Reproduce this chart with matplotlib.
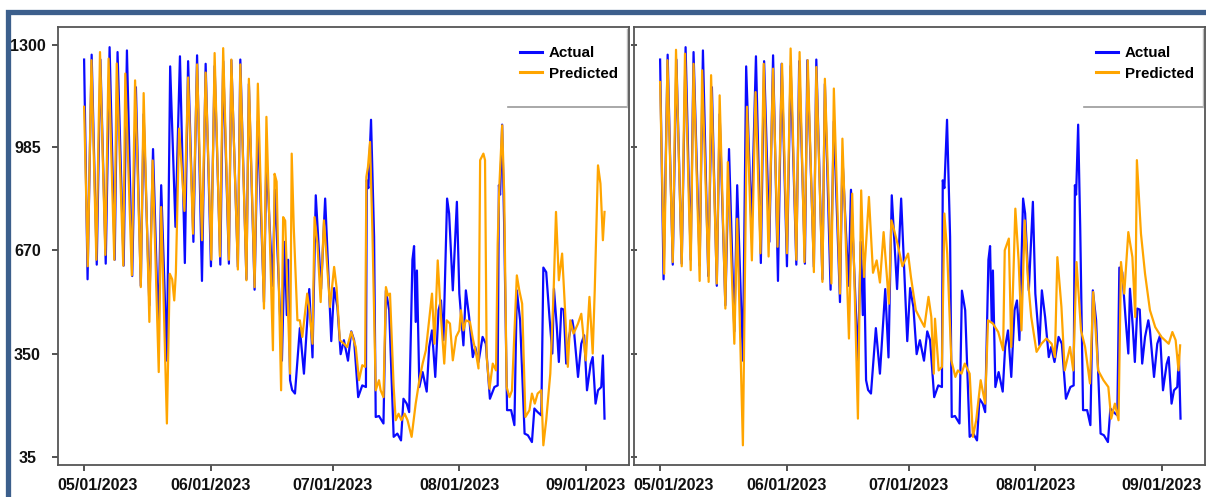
import numpy as np
import pandas as pd
import matplotlib
matplotlib.use('Agg')
import matplotlib.pyplot as plt
import matplotlib.dates as mdates
from matplotlib.patches import Rectangle
from matplotlib.lines import Line2D
from matplotlib.transforms import ScaledTranslation

plt.rcParams['font.family'] = ['Liberation Sans', 'DejaVu Sans']

start = pd.Timestamp('2023-05-01')

# actual series (days since 05/01/2023, value)
actual_day = [0.0, 0.85, 1.85, 3.1, 4.0, 5.3, 6.25, 7.5, 8.2, 9.7, 10.5, 11.8, 12.7, 13.9, 14.6,
              16.0, 16.9, 18.2, 18.9, 20.3, 21.1, 22.4, 23.5, 24.7, 25.5, 26.8, 27.7, 28.9, 29.8,
              31.1, 32.0, 33.4, 34.1, 35.5, 36.1, 37.7, 38.3, 39.8, 40.4, 41.8, 42.6, 44.1, 44.7,
              46.2, 46.8, 48.5, 49.2, 49.7, 50.0, 50.5, 51.0, 51.7, 52.9, 53.9, 55.2, 56.0, 56.8,
              58.1, 59.1, 60.6, 61.3, 62.1, 62.9, 63.7, 64.7, 65.5, 66.2, 67.2, 68.2, 69.1, 69.3,
              69.7, 70.35, 71.1, 71.5, 72.3, 73.4, 74.0, 74.8, 75.9, 76.8, 77.7, 78.3, 79.1, 79.7,
              80.5, 80.9, 81.3, 81.6, 82.2, 83.0, 84.0, 84.6, 85.3, 86.1, 86.9, 87.5, 88.1, 89.0,
              89.5, 90.4, 91.4, 92.0, 93.0, 93.6, 94.4, 95.3, 95.9, 96.7, 97.7, 98.5, 99.5, 100.6,
              101.4, 101.7, 102.0, 102.5, 103.0, 103.7, 104.7, 105.5, 106.1, 106.9, 108.0, 108.8,
              109.8, 110.4, 111.2, 112.1, 112.6, 113.3, 114.1, 114.8, 115.2, 115.9, 116.4, 117.0,
              117.6, 118.2, 118.9, 119.7, 120.1, 121.1, 121.9, 122.6, 123.3, 124.2, 124.7, 125.4,
              126.0, 126.8, 127.2, 127.6]
actual_val = [1255, 580, 1270, 625, 1255, 628, 1293, 640, 1278, 622, 1283, 590, 1170, 560, 1087,
              500, 980, 420, 869, 330, 1234, 741, 1265, 630, 1250, 695, 1268, 575, 1242,
              620, 1235, 625, 1250, 628, 1253, 618, 1255, 580, 1180, 548, 1065, 510, 956,
              560, 855, 330, 695, 470, 640, 270, 240, 229, 430, 290, 550, 340, 838,
              550, 828, 390, 553, 495, 350, 393, 330, 420, 393, 218, 254, 249, 884,
              860, 1070, 710, 157, 160, 137, 545, 485, 96, 106, 85, 213, 198, 172,
              640, 682, 449, 607, 249, 295, 235, 372, 423, 280, 485, 515, 393, 828,
              782, 546, 818, 536, 377, 546, 464, 341, 372, 326, 403, 382, 213, 249,
              254, 869, 840, 1055, 741, 178, 178, 132, 546, 454, 106, 101,
              80, 183, 172, 162, 616, 602, 464, 352, 551, 433, 326, 490,
              487, 321, 403, 454, 423, 280, 382, 408, 239, 320, 341, 198,
              239, 249, 346, 152]

# predicted, left model
pred_a_day = [0.0, 0.9, 1.8, 3.0, 3.9, 5.2, 6.0, 7.4, 8.0, 9.6, 10.1, 11.7, 12.5, 13.9, 14.6,
              16.0, 16.8, 18.3, 18.9, 20.3, 21.0, 21.6, 22.1, 22.5, 23.3, 24.6, 25.5, 26.7, 27.7,
              28.9, 29.8, 31.2, 32.0, 33.3, 34.1, 35.5, 36.1, 37.7, 38.3, 39.8, 40.4, 41.8, 42.6,
              44.1, 44.7, 46.3, 46.7, 47.2, 48.3, 48.8, 49.3, 50.5, 50.9, 51.4, 52.3, 52.9, 53.5,
              54.7, 55.2, 56.0, 56.5, 57.2, 58.0, 58.8, 60.3, 61.3, 61.9, 62.7, 63.7, 64.5, 65.5,
              66.6, 67.4, 68.2, 68.9, 69.2, 69.6, 70.1, 70.7, 71.5, 72.3, 72.7, 73.4, 74.0, 74.5,
              75.0, 75.9, 76.4, 77.1, 77.8, 78.6, 79.3, 80.3, 81.3, 82.2, 83.0, 83.8, 84.6, 85.3,
              85.9, 86.7, 87.5, 88.3, 88.9, 89.7, 90.4, 91.2, 92.0, 92.4, 93.0, 93.6, 94.6, 95.3,
              96.1, 96.7, 97.1, 97.9, 98.3, 98.7, 99.4, 100.2, 101.0, 101.4, 101.8, 102.5, 103.0,
              103.6, 104.3, 104.9, 105.5, 106.1, 106.7, 107.4, 108.2, 109.2, 109.8, 110.5, 111.2,
              112.1, 112.6, 113.3, 114.3, 115.1, 115.7, 116.4, 117.2, 117.8, 118.6, 119.2, 120.0,
              121.1, 121.9, 123.0, 123.9, 124.7, 125.2, 126.0, 126.6, 127.2, 127.6]
pred_a_val = [1110, 620, 1253, 640, 1278, 655, 1258, 640, 1243, 622, 1212, 592, 1191, 556, 1152,
              449, 945, 295, 802, 137, 597, 580, 515, 600, 1043, 790, 1200, 720, 1240,
              700, 1215, 640, 1275, 650, 1290, 640, 1255, 610, 1240, 577, 1196, 556, 1181,
              490, 1079, 362, 904, 880, 239, 771, 760, 290, 966, 741, 454, 454, 403,
              536, 490, 382, 771, 690, 510, 761, 495, 618, 555, 393, 382, 372, 418,
              372, 270, 316, 311, 894, 925, 1002, 720, 239, 270, 239, 218, 556, 530,
              536, 249, 147, 167, 147, 167, 147, 96, 198, 270, 321, 362, 454, 536,
              382, 638, 464, 321, 454, 444, 331, 403, 423, 485, 423, 454, 449, 398,
              352, 306, 946, 966, 946, 341, 244, 321, 300, 690, 864, 1053, 843,
              249, 218, 238, 413, 592, 546, 505, 157, 178, 229, 198, 229,
              239, 70, 147, 290, 536, 787, 577, 659, 515, 311, 454, 413,
              444, 474, 331, 526, 352, 546, 930, 874, 700, 787]

# predicted, right model
pred_b_day = [0.0, 1.0, 1.8, 3.1, 3.9, 5.3, 6.1, 7.5, 8.2, 9.7, 10.3, 11.9, 12.5, 13.9, 14.6,
              16.0, 16.6, 18.2, 18.9, 20.3, 21.3, 22.5, 23.4, 24.6, 25.4, 26.6, 27.7, 28.8, 29.9,
              31.1, 32.0, 33.4, 34.2, 35.4, 36.2, 37.7, 38.3, 39.8, 40.4, 42.0, 42.6, 44.1, 44.7,
              46.3, 47.1, 48.5, 49.3, 50.0, 51.2, 52.2, 53.1, 53.9, 54.8, 56.1, 56.7, 57.4, 58.2,
              59.4, 60.8, 61.5, 62.7, 63.9, 64.8, 65.8, 66.5, 67.1, 67.4, 68.3, 69.1, 69.7, 70.4,
              71.4, 72.4, 73.0, 73.9, 74.7, 75.9, 76.7, 77.5, 78.6, 79.7, 80.4, 81.6, 82.9, 84.1,
              84.5, 85.5, 86.1, 87.1, 87.9, 88.6, 89.4, 90.2, 91.0, 92.3, 93.5, 94.7, 96.0, 96.8,
              97.4, 98.4, 99.2, 100.5, 101.3, 102.1, 103.2, 104.2, 105.4, 106.2, 107.4, 108.7,
              109.9, 110.6, 111.5, 112.4, 113.0, 113.8, 114.8, 115.8, 116.5, 116.9, 117.9, 118.9,
              120.1, 121.4, 122.9, 124.7, 125.6, 126.4, 127.1, 127.5]
pred_b_val = [1186, 597, 1253, 633, 1285, 620, 1273, 608, 1242, 575, 1222, 572, 1207, 567, 1145,
              490, 940, 382, 766, 70, 1110, 638, 1155, 660, 1242, 650, 1227, 680, 1242,
              660, 1289, 640, 1278, 633, 1253, 602, 1232, 572, 1196, 567, 1166, 536, 1012,
              398, 843, 152, 853, 587, 833, 600, 638, 570, 725, 505, 761, 730, 690,
              620, 659, 587, 485, 455, 434, 526, 464, 290, 459, 300, 311, 782, 659,
              331, 280, 300, 290, 321, 290, 96, 147, 270, 198, 454, 444, 418, 362,
              669, 705, 372, 797, 638, 423, 761, 577, 464, 357, 382, 398, 382, 341,
              648, 495, 300, 372, 300, 633, 423, 372, 260, 541, 300, 270,
              249, 152, 198, 147, 633, 536, 725, 648, 464, 946, 720, 597,
              485, 433, 403, 382, 418, 393, 300, 377]

yticks = [35, 350, 670, 985, 1300]


def to_dates(days):
    return (start + pd.to_timedelta(np.array(days), unit='D')).to_numpy()


fig = plt.figure(figsize=(12.06, 4.97), dpi=100)
ax1 = fig.add_axes([58 / 1206, 32 / 497, 571 / 1206, 438 / 497])
ax2 = fig.add_axes([634 / 1206, 32 / 497, 571 / 1206, 438 / 497])

for ax, pd_day, pd_val in [(ax1, pred_a_day, pred_a_val), (ax2, pred_b_day, pred_b_val)]:
    ax.plot(to_dates(actual_day), actual_val, color='#0a0aff', lw=1.6, label='Actual', zorder=2)
    ax.plot(to_dates(pd_day), pd_val, color='#ffa500', lw=1.6, label='Predicted', zorder=3)
    ax.set_ylim(9.5, 1355)
    ax.set_xlim(start - pd.Timedelta(days=6.4), start + pd.Timedelta(days=133.6))
    ax.set_yticks(yticks)
    ax.xaxis.set_major_locator(mdates.MonthLocator())
    ax.xaxis.set_major_formatter(mdates.DateFormatter('%m/%d/%Y'))
    for s in ax.spines.values():
        s.set_color('#555555')
        s.set_linewidth(1.3)
    ax.tick_params(axis='x', length=4, width=1.2, color='#333333', pad=5.5,
                   labelsize=11.5, labelcolor='#111111')
    leg = ax.legend(loc='upper left', bbox_to_anchor=(0.795, 0.974), frameon=False,
                    borderpad=0, handlelength=1.5, handletextpad=0.45, labelspacing=0.45,
                    prop={'weight': 'bold', 'size': 10.9})
    for h in leg.get_lines():
        h.set_linewidth(2.2)
    # box edges round the legend
    ax.add_line(Line2D([0.788, 0.9965], [0.817, 0.817], transform=ax.transAxes,
                       color='#999999', lw=1.2, clip_on=False))
    ax.add_line(Line2D([0.9965, 0.9965], [0.817, 0.995], transform=ax.transAxes,
                       color='#bbbbbb', lw=1.0, clip_on=False))

ax1.tick_params(axis='y', direction='out', length=4, width=1.2, color='#333333',
                pad=18, labelsize=11.5, labelcolor='#111111')
ax2.tick_params(axis='y', direction='inout', length=5, width=1.2, color='#333333',
                labelleft=False)

fig.canvas.draw()
for lab in ax1.get_yticklabels():
    lab.set_ha('center')
    lab.set_fontweight('bold')
shift = ScaledTranslation(13 / 100, 0, fig.dpi_scale_trans)
for ax in (ax1, ax2):
    labs = ax.get_xticklabels()
    for lab in labs:
        lab.set_fontweight('bold')
    # first date label sits a little right of its tick
    labs[0].set_transform(labs[0].get_transform() + shift)

# dark blue frame round the picture
fig.patches.append(Rectangle((7.5 / 1206, -0.1), 1.2, 1 - 11.5 / 497 + 0.1,
                             transform=fig.transFigure, fill=False,
                             edgecolor='#3c5f8c', lw=3.8, zorder=10))

fig.savefig('out.png', dpi=100)
